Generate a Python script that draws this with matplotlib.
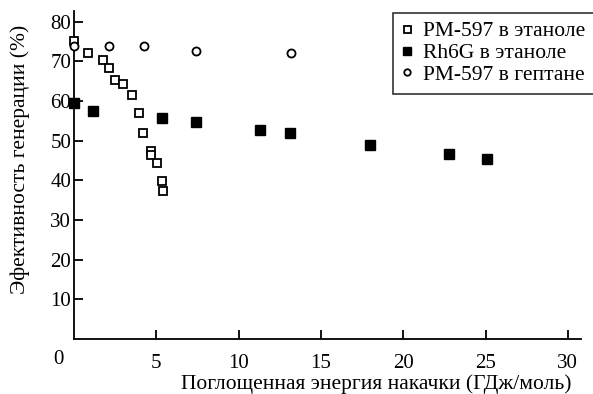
import matplotlib
matplotlib.use("Agg")
import matplotlib.pyplot as plt

# PM-597 in ethanol (open squares)
pm_eth_x = [0.0, 0.86, 1.79, 2.12, 2.49, 2.95, 3.5, 3.92, 4.2, 4.65, 4.7, 5.02, 5.36, 5.4]
pm_eth_y = [75.2, 72.0, 70.4, 68.4, 65.2, 64.4, 61.5, 57.0, 52.0, 47.5, 46.3, 44.4, 39.9, 37.4]

# Rh6G in ethanol (filled squares)
rh_x = [0.0, 1.17, 5.36, 7.39, 11.3, 13.1, 17.98, 22.76, 25.08]
rh_y = [59.6, 57.6, 55.7, 54.7, 52.6, 51.9, 48.8, 46.7, 45.5]

# PM-597 in heptane (open circles)
pm_hep_x = [0.0, 2.12, 4.25, 7.39, 13.18]
pm_hep_y = [73.8, 74.0, 74.0, 72.7, 72.2]

x_ticks = [5, 10, 15, 20, 25, 30]
y_ticks = [10, 20, 30, 40, 50, 60, 70, 80]

plt.rcParams['font.family'] = ['Liberation Serif', 'DejaVu Serif']
plt.rcParams['font.size'] = 15.5

fig = plt.figure(figsize=(5.93, 3.94), dpi=100)
ax = fig.add_axes([74 / 593, 1 - 339 / 394, (581 - 74) / 593, (339 - 11) / 394])

ax.plot(pm_eth_x, pm_eth_y, 's', ms=6.3, mfc='white', mec='black', mew=1.3,
        label='PM-597 в этаноле', clip_on=False, zorder=3)
ax.plot(rh_x, rh_y, 's', ms=6.5, mfc='black', mec='black', mew=1,
        label='Rh6G в этаноле', clip_on=False, zorder=3)
ax.plot(pm_hep_x, pm_hep_y, 'o', ms=5.8, mfc='white', mec='black', mew=1.3,
        label='PM-597 в гептане', clip_on=False, zorder=4)

ax.set_xlim(0, 30.8)
ax.set_ylim(0, 82.7)
ax.set_xticks(x_ticks)
ax.set_yticks(y_ticks)
for s in ['top', 'right']:
    ax.spines[s].set_visible(False)
for s in ['left', 'bottom']:
    ax.spines[s].set_linewidth(1.3)
ax.tick_params(axis='both', direction='in', length=6.5, width=1.3, labelsize=15)
ax.tick_params(axis='x', pad=11)
ax.tick_params(axis='y', pad=2)

fig.text(58 / 593, 1 - 360 / 394, '0', ha='center', va='center', fontsize=15)
fig.text(20 / 593, 1 - 159 / 394, 'Эфективность генерации (%)', rotation=90,
         ha='center', va='center', fontsize=15.5)
fig.text(376 / 593, 1 - 384 / 394, 'Поглощенная энергия накачки (ГДж/моль)',
         ha='center', va='center', fontsize=15.5)

leg = ax.legend(loc='upper left', bbox_to_anchor=(393 / 593, 1 - 12.7 / 394),
                bbox_transform=fig.transFigure, frameon=True, fancybox=False,
                edgecolor='black', handlelength=0.5, handletextpad=0.5,
                borderpad=0.4, labelspacing=0.08, markerscale=0.8, fontsize=15.5,
                borderaxespad=0)
leg.get_frame().set_linewidth(1.2)

fig.savefig('out.png', dpi=100)
